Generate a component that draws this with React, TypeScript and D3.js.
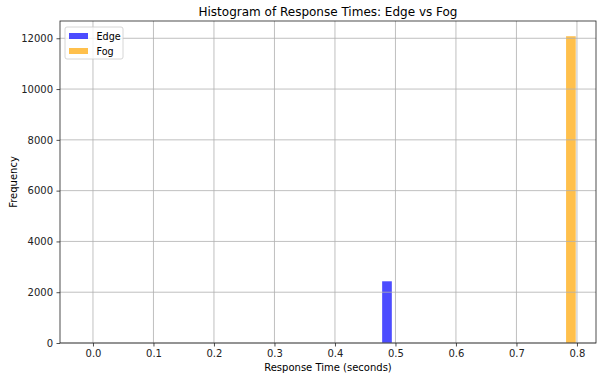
import React, { useEffect, useRef } from "react";
import * as d3 from "d3";

// histogram bins (start, end in seconds) and counts
const seriesNames = ["Edge", "Fog"];
const seriesColors = ["rgba(0,0,255,0.7)", "rgba(255,165,0,0.7)"];
const binStarts = [0.478, 0.782];
const binEnds = [0.494, 0.798];
const binCounts = [2430, 12080];
const xTicks = [0, 0.1, 0.2, 0.3, 0.4, 0.5, 0.6, 0.7, 0.8];
const yTicks = [0, 2000, 4000, 6000, 8000, 10000, 12000];

const App: React.FC = () => {
  const svgRef = useRef<SVGSVGElement>(null);

  useEffect(() => {
    if (!svgRef.current) return;
    d3.select(svgRef.current).selectAll("*").remove();

    const width = 597;
    const height = 377;
    const margin = { top: 21, right: 1, bottom: 34, left: 60 };
    const innerW = width - margin.left - margin.right;
    const innerH = height - margin.top - margin.bottom;
    const font = "DejaVu Sans, sans-serif";

    const svg = d3
      .select(svgRef.current)
      .attr("width", width)
      .attr("height", height)
      .style("font-family", font);

    svg.append("rect").attr("width", width).attr("height", height).attr("fill", "#fff");

    const g = svg
      .append("g")
      .attr("transform", `translate(${margin.left},${margin.top})`);

    const x = d3.scaleLinear().domain([-0.0545, 0.8315]).range([0, innerW]);
    const y = d3.scaleLinear().domain([0, 12680]).range([innerH, 0]);

    // bars
    g.selectAll("rect.bar")
      .data(binCounts)
      .enter()
      .append("rect")
      .attr("x", (_, i) => x(binStarts[i]))
      .attr("width", (_, i) => x(binEnds[i]) - x(binStarts[i]))
      .attr("y", (d) => y(d))
      .attr("height", (d) => innerH - y(d))
      .attr("fill", (_, i) => seriesColors[i]);

    // grid
    g.append("g")
      .selectAll("line")
      .data(xTicks)
      .enter()
      .append("line")
      .attr("x1", (d) => x(d))
      .attr("x2", (d) => x(d))
      .attr("y1", 0)
      .attr("y2", innerH)
      .attr("stroke", "#b0b0b0")
      .attr("stroke-width", 0.8);
    g.append("g")
      .selectAll("line")
      .data(yTicks)
      .enter()
      .append("line")
      .attr("x1", 0)
      .attr("x2", innerW)
      .attr("y1", (d) => y(d))
      .attr("y2", (d) => y(d))
      .attr("stroke", "#b0b0b0")
      .attr("stroke-width", 0.8);

    // axes
    const xAxis = g
      .append("g")
      .attr("transform", `translate(0,${innerH})`)
      .call(
        d3
          .axisBottom(x)
          .tickValues(xTicks)
          .tickFormat(d3.format(".1f"))
          .tickSize(3.5)
          .tickPadding(3.5)
      );
    const yAxis = g.append("g").call(
      d3
        .axisLeft(y)
        .tickValues(yTicks)
        .tickFormat(d3.format("d"))
        .tickSize(3.5)
        .tickPadding(3.5)
    );
    [xAxis, yAxis].forEach((a) => {
      a.select(".domain").remove();
      a.selectAll("text").attr("font-size", 10).attr("fill", "#222").style("font-family", font);
      a.selectAll("line").attr("stroke", "#222").attr("stroke-width", 0.8);
    });

    // frame
    g.append("rect")
      .attr("width", innerW)
      .attr("height", innerH)
      .attr("fill", "none")
      .attr("stroke", "#222")
      .attr("stroke-width", 0.8);

    // labels
    svg
      .append("text")
      .attr("x", margin.left + innerW / 2)
      .attr("y", 16)
      .attr("text-anchor", "middle")
      .attr("font-size", 12)
      .attr("fill", "#000")
      .text("Histogram of Response Times: Edge vs Fog");
    svg
      .append("text")
      .attr("x", margin.left + innerW / 2)
      .attr("y", 371)
      .attr("text-anchor", "middle")
      .attr("font-size", 10)
      .attr("fill", "#000")
      .text("Response Time (seconds)");
    svg
      .append("text")
      .attr("transform", `translate(17,${margin.top + innerH / 2}) rotate(-90)`)
      .attr("text-anchor", "middle")
      .attr("font-size", 10)
      .attr("fill", "#000")
      .text("Frequency");

    // legend
    const lg = g.append("g").attr("transform", "translate(5,6)");
    lg.append("rect")
      .attr("width", 58)
      .attr("height", 32)
      .attr("rx", 2)
      .attr("fill", "rgba(255,255,255,0.8)")
      .attr("stroke", "#ccc")
      .attr("stroke-width", 0.8);
    seriesNames.forEach((name, i) => {
      lg.append("rect")
        .attr("x", 4)
        .attr("y", 6 + i * 15)
        .attr("width", 19)
        .attr("height", 6)
        .attr("fill", seriesColors[i]);
      lg.append("text")
        .attr("x", 31.5)
        .attr("y", 12.5 + i * 15)
        .attr("font-size", 9.6)
        .attr("fill", "#000")
        .text(name);
    });
  }, []);

  return (
    <div style={{ position: "fixed", left: 0, top: 0, width: 597, height: 377, overflow: "hidden" }}>
      <svg ref={svgRef} style={{ display: "block" }} />
    </div>
  );
};

export default App;
